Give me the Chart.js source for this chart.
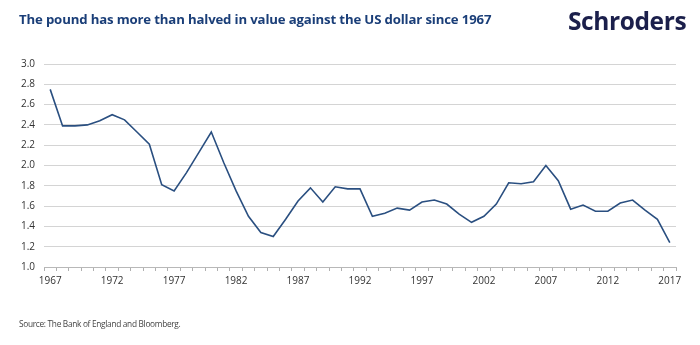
<!DOCTYPE html>
<html>
<head>
<meta charset="utf-8">
<script src="https://cdn.jsdelivr.net/npm/chart.js@4/dist/chart.umd.min.js"></script>
<style>
  html, body { margin: 0; padding: 0; background: #fff; }
  #wrap { position: relative; width: 700px; height: 345px; overflow: hidden; }
  #title {
    position: absolute; left: 19px; top: 10px;
    font: 700 13.2px "Open Sans", sans-serif; color: #1a3e78;
    letter-spacing: -0.15px; white-space: nowrap;
  }
  #logo {
    position: absolute; left: 568px; top: 4px;
    font: 700 24.5px "Open Sans", sans-serif; color: #1b1f4b;
    letter-spacing: -0.4px; white-space: nowrap;
  }
  #source {
    position: absolute; left: 19px; top: 318px;
    font: 400 8.3px "Open Sans", sans-serif; color: #444;
    letter-spacing: -0.3px; white-space: nowrap;
  }
  #chart { position: absolute; left: 0; top: 0; }
</style>
</head>
<body>
<div id="wrap">
  <canvas id="chart" width="700" height="345"></canvas>
  <div id="title">The pound has more than halved in value against the US dollar since 1967</div>
  <div id="logo">Schroders</div>
  <div id="source">Source: The Bank of England and Bloomberg.</div>
</div>
<script>
/* ---------- DATA ---------- */

const years = [
  "1967", "1968", "1969", "1970", "1971", "1972", "1973", "1974", "1975", "1976",
  "1977", "1978", "1979", "1980", "1981", "1982", "1983", "1984", "1985", "1986",
  "1987", "1988", "1989", "1990", "1991", "1992", "1993", "1994", "1995", "1996",
  "1997", "1998", "1999", "2000", "2001", "2002", "2003", "2004", "2005", "2006",
  "2007", "2008", "2009", "2010", "2011", "2012", "2013", "2014", "2015", "2016",
  "2017"
];

const gbpUsd = [
  2.75, 2.39, 2.39, 2.40, 2.44, 2.50, 2.45, 2.33, 2.21, 1.81,
  1.75, 1.93, 2.13, 2.33, 2.03, 1.75, 1.50, 1.34, 1.30, 1.47,
  1.65, 1.78, 1.64, 1.79, 1.77, 1.77, 1.50, 1.53, 1.58, 1.56,
  1.64, 1.66, 1.62, 1.52, 1.44, 1.50, 1.62, 1.83, 1.82, 1.84,
  2.00, 1.85, 1.57, 1.61, 1.55, 1.55, 1.63, 1.66, 1.56, 1.47,
  1.24
];

const yMin = 1.0;
const yMax = 3.0;
const yStep = 0.2;

/* ---------- CHART ---------- */

const ctx = document.getElementById("chart").getContext("2d");

new Chart(ctx, {
  type: "line",
  data: {
    labels: years,
    datasets: [
      {
        label: "GBP/USD",
        data: gbpUsd,
        borderColor: "#2a4f80",
        borderWidth: 1.6,
        pointRadius: 0,
        tension: 0,
        fill: false
      }
    ]
  },
  options: {
    responsive: false,
    animation: false,
    layout: {
      padding: { left: 0, right: 24, top: 64, bottom: 58 }
    },
    plugins: {
      legend: { display: false },
      tooltip: { enabled: false }
    },
    scales: {
      x: {
        type: "category",
        offset: true,
        afterFit(scale) { scale.height = 20; },
        border: { display: true, color: "#b8b8b8", width: 1 },
        grid: {
          offset: true,
          drawOnChartArea: false,
          drawTicks: true,
          tickLength: 4,
          color: "#b0b0b0"
        },
        ticks: {
          autoSkip: false,
          maxRotation: 0,
          padding: 4,
          color: "#333",
          font: { family: "Open Sans", size: 10 },
          callback(value, index) {
            return index % 5 === 0 ? this.getLabelForValue(value) : "";
          }
        }
      },
      y: {
        min: yMin,
        max: yMax,
        afterFit(scale) { scale.width = 44; },
        border: { display: false },
        grid: {
          drawTicks: false,
          color: "#d4d4d4",
          lineWidth: 1
        },
        ticks: {
          stepSize: yStep,
          padding: 9,
          color: "#333",
          font: { family: "Open Sans", size: 10 },
          callback(value) { return value.toFixed(1); }
        }
      }
    }
  }
});
</script>
</body>
</html>
